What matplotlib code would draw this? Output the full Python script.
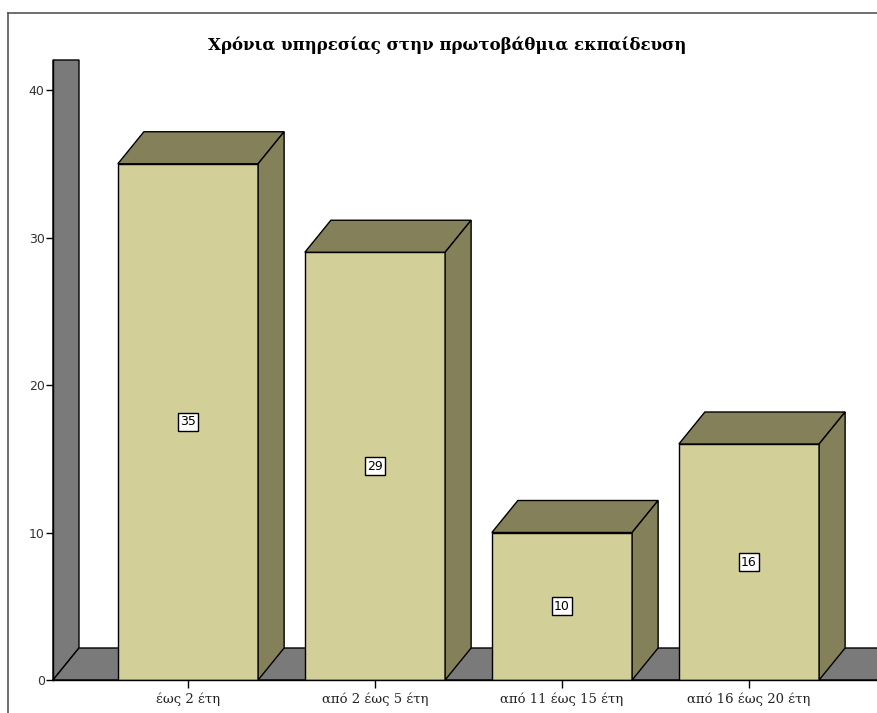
import matplotlib.pyplot as plt
from matplotlib.patches import Polygon
from matplotlib.lines import Line2D

categories = ["έως 2 έτη", "από 2 έως 5 έτη", "από 11 έως 15 έτη", "από 16 έως 20 έτη"]
counts = [35, 29, 10, 16]
title = "Χρόνια υπηρεσίας στην πρωτοβάθμια εκπαίδευση"

FRONT = "#d3cf98"
SHADE = "#84805a"
WALL = "#7a7a7a"

W, H = 877, 713
fig = plt.figure(figsize=(W / 100, H / 100), dpi=100)
fig.patch.set_facecolor("white")

# axes placed so that categories sit at 188 + 187*i px and 0..40 spans 680..90 px
ax = fig.add_axes([53 / W, (H - 680) / H, (W - 53) / W, (680 - 60) / H])
ax.set_xlim((53 - 188) / 187, (W - 188) / 187)
ax.set_ylim(0, 620 / 14.75)
ax.set_facecolor("none")

# depth of the 3D effect in data units
dx = 26 / 187
dy = 32 / 14.75
x0, x1 = ax.get_xlim()
y0, y1 = ax.get_ylim()

# back wall and floor
ax.add_patch(Polygon([(x0, 0), (x0 + dx, dy), (x0 + dx, y1), (x0, y1)],
                     closed=True, facecolor=WALL, edgecolor="black", lw=1, clip_on=False))
ax.add_patch(Polygon([(x0, 0), (x0 + dx, dy), (x1 + 1, dy), (x1 + 1, 0)],
                     closed=True, facecolor=WALL, edgecolor="black", lw=1, clip_on=False))

half = 0.75 / 2
for i, v in enumerate(counts):
    l, r = i - half, i + half
    ax.add_patch(Polygon([(l, 0), (r, 0), (r, v), (l, v)], closed=True,
                         facecolor=FRONT, edgecolor="black", lw=1, zorder=3))
    ax.add_patch(Polygon([(l, v), (r, v), (r + dx, v + dy), (l + dx, v + dy)], closed=True,
                         facecolor=SHADE, edgecolor="black", lw=1, zorder=3))
    ax.add_patch(Polygon([(r, 0), (r + dx, dy), (r + dx, v + dy), (r, v)], closed=True,
                         facecolor=SHADE, edgecolor="black", lw=1, zorder=3))
    ax.text(i, v / 2, str(v), ha="center", va="center", fontsize=9,
            family="DejaVu Sans", zorder=5,
            bbox=dict(boxstyle="square,pad=0.2", facecolor="white", edgecolor="black", lw=1))

for s in ["top", "right"]:
    ax.spines[s].set_visible(False)
ax.spines["left"].set_linewidth(1)
ax.spines["bottom"].set_linewidth(1)
ax.spines["left"].set_zorder(6)
ax.spines["bottom"].set_zorder(6)

ax.set_yticks([0, 10, 20, 30, 40])
ax.tick_params(axis="y", length=5, width=1, labelsize=9, pad=1, colors="black",
               labelcolor="#333333")
ax.set_xticks(range(len(categories)))
ax.set_xticklabels(categories, family="DejaVu Serif", fontsize=9.5)
ax.tick_params(axis="x", length=6, width=1, pad=3, labelcolor="#222222")

fig.text(447 / W, 1 - 45 / H, title, ha="center", va="center",
         family="DejaVu Serif", fontweight="bold", fontsize=12)

# outer frame
fig.add_artist(Line2D([8 / W, 1], [1 - 13 / H, 1 - 13 / H], color="#555555", lw=1.2))
fig.add_artist(Line2D([8 / W, 8 / W], [0, 1 - 13 / H], color="#555555", lw=1.2))

fig.savefig("out.png", dpi=100)
